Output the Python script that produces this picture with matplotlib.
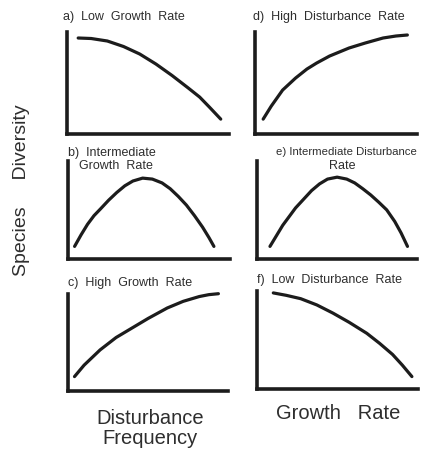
import matplotlib.pyplot as plt

plt.rcParams['font.family'] = ['Liberation Sans', 'DejaVu Sans']

# curves (x: 0..1 along the axis, y: 0..1 up the axis)
a_x = [0.07, 0.15, 0.25, 0.35, 0.45, 0.55, 0.65, 0.75, 0.82, 0.88, 0.95]
a_y = [0.96, 0.955, 0.93, 0.875, 0.80, 0.70, 0.585, 0.46, 0.37, 0.27, 0.15]

b_x = [0.04, 0.08, 0.12, 0.16, 0.2, 0.25, 0.3, 0.35, 0.4, 0.46,
       0.52, 0.58, 0.63, 0.68, 0.73, 0.78, 0.83, 0.87, 0.9]
b_y = [0.13, 0.25, 0.36, 0.45, 0.52, 0.61, 0.69, 0.76, 0.81, 0.84,
       0.83, 0.79, 0.73, 0.65, 0.56, 0.45, 0.33, 0.22, 0.13]

c_x = [0.04, 0.1, 0.2, 0.3, 0.41, 0.5, 0.62, 0.72, 0.82, 0.88, 0.94]
c_y = [0.15, 0.27, 0.43, 0.56, 0.67, 0.76, 0.87, 0.94, 0.99, 1.01, 1.02]

d_x = [0.05, 0.1, 0.17, 0.25, 0.32, 0.38, 0.46, 0.58, 0.68, 0.79, 0.87, 0.94]
d_y = [0.15, 0.28, 0.44, 0.56, 0.65, 0.71, 0.78, 0.86, 0.91, 0.96, 0.98, 0.99]

e_x = [0.08, 0.12, 0.16, 0.2, 0.24, 0.29, 0.34, 0.39, 0.44, 0.5,
       0.56, 0.61, 0.66, 0.71, 0.76, 0.81, 0.86, 0.9, 0.94]
e_y = [0.13, 0.24, 0.35, 0.44, 0.53, 0.62, 0.71, 0.78, 0.83, 0.85,
       0.83, 0.79, 0.73, 0.665, 0.59, 0.51, 0.39, 0.27, 0.13]

f_x = [0.10, 0.18, 0.27, 0.37, 0.47, 0.57, 0.68, 0.76, 0.84, 0.9, 0.96]
f_y = [1.0, 0.975, 0.94, 0.875, 0.79, 0.695, 0.58, 0.475, 0.36, 0.25, 0.13]

titles = {
    'a': 'a)  Low  Growth  Rate',
    'b': 'b)  Intermediate',
    'c': 'c)  High  Growth  Rate',
    'd': 'd)  High  Disturbance  Rate',
    'e': 'e) Intermediate Disturbance',
    'f': 'f)  Low  Disturbance  Rate',
}

ink = '#1c1c1c'
txt = '#2e2e2e'

fig = plt.figure(figsize=(4.23, 4.52), dpi=100)

# left, bottom, width, height in figure fractions
boxes = {
    'a': [0.158, 0.701, 0.383, 0.226],
    'd': [0.603, 0.701, 0.383, 0.226],
    'b': [0.161, 0.425, 0.383, 0.217],
    'e': [0.608, 0.425, 0.378, 0.217],
    'c': [0.161, 0.133, 0.378, 0.215],
    'f': [0.608, 0.137, 0.381, 0.217],
}
curves = {'a': (a_x, a_y), 'b': (b_x, b_y), 'c': (c_x, c_y),
          'd': (d_x, d_y), 'e': (e_x, e_y), 'f': (f_x, f_y)}

axes = {}
for k, box in boxes.items():
    ax = fig.add_axes(box)
    x, y = curves[k]
    ax.plot(x, y, color=ink, lw=2.3, solid_capstyle='round',
            solid_joinstyle='round', clip_on=False)
    ax.set_xlim(0, 1)
    ax.set_ylim(0, 1.02)
    ax.set_xticks([])
    ax.set_yticks([])
    for s in ['top', 'right']:
        ax.spines[s].set_visible(False)
    for s in ['left', 'bottom']:
        ax.spines[s].set_linewidth(2.6)
        ax.spines[s].set_color(ink)
    axes[k] = ax

axes['a'].text(-0.025, 1.16, titles['a'], transform=axes['a'].transAxes,
               fontsize=9, color=txt, va='center')
axes['d'].text(-0.01, 1.16, titles['d'], transform=axes['d'].transAxes,
               fontsize=9, color=txt, va='center')
axes['b'].text(0.0, 1.09, titles['b'], transform=axes['b'].transAxes,
               fontsize=9, color=txt, va='center')
axes['b'].text(0.07, 0.96, 'Growth  Rate', transform=axes['b'].transAxes,
               fontsize=9, color=txt, va='center')
axes['e'].text(0.12, 1.10, titles['e'], transform=axes['e'].transAxes,
               fontsize=8.2, color=txt, va='center')
axes['e'].text(0.53, 0.96, 'Rate', transform=axes['e'].transAxes,
               fontsize=9, color=txt, va='center', ha='center')
axes['c'].text(0.0, 1.12, titles['c'], transform=axes['c'].transAxes,
               fontsize=9, color=txt, va='center')
axes['f'].text(0.0, 1.12, titles['f'], transform=axes['f'].transAxes,
               fontsize=9, color=txt, va='center')

fig.text(150 / 423, 0.052, 'Disturbance\nFrequency', ha='center', va='center',
         fontsize=14.5, color=txt, linespacing=1.1)
fig.text(338 / 423, 0.086, 'Growth   Rate', ha='center', va='center',
         fontsize=14.5, color=txt)
fig.text(0.052, 1 - 190 / 452, 'Species     Diversity', rotation=90,
         ha='center', va='center', fontsize=14, color=txt)

fig.savefig('out.png', dpi=100, facecolor='white')
